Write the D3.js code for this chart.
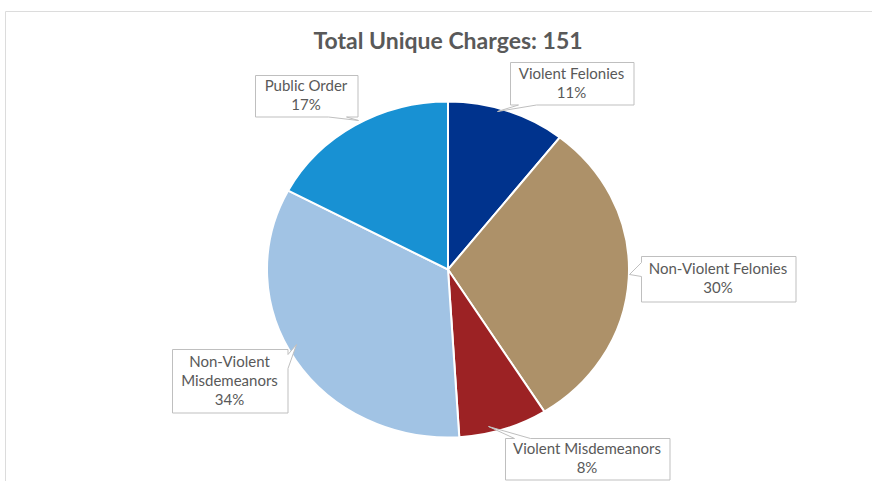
<!DOCTYPE html>
<html lang="en">
  <head>
    <meta charset="UTF-8" />
    <title>Total Unique Charges</title>
    <script src="https://d3js.org/d3.v7.min.js"></script>
    <style>
      body {
        margin: 0;
        padding: 0;
        background: #fff;
      }
      svg {
        display: block;
        font-family: Lato, "Open Sans", sans-serif;
      }
    </style>
  </head>
  <body>
    <svg width="872" height="481"></svg>
    <script>
      // data (151 charges in total)
      const categories = [
        "Violent Felonies",
        "Non-Violent Felonies",
        "Violent Misdemeanors",
        "Non-Violent Misdemeanors",
        "Public Order",
      ];
      const counts = [16, 46, 12, 51, 26];
      const percentLabels = ["11%", "30%", "8%", "34%", "17%"];
      const colors = ["#00338d", "#ad9169", "#9c2224", "#a1c3e4", "#1891d3"];

      // callout boxes: [x, y, w, h, side of wedge, wedge base a, base b, tip x, tip y]
      const callouts = [
        [510, 62, 123, 42, "bottom", 518, 536, 497, 111],
        [641, 256, 154, 45, "left", 262, 276, 629, 274],
        [505, 438, 164, 41, "top", 514, 530, 488, 426],
        [172, 349, 115, 63, "right", 354, 368, 296, 344],
        [255, 75, 102, 41, "bottom", 328, 346, 358, 120],
      ];

      const width = 872;
      const height = 481;
      const cx = 448;
      const cy = 269.5;
      const r = 168;
      const sx = 181 / 168;

      const svg = d3.select("svg");

      // faint chart frame
      svg
        .append("path")
        .attr("d", `M5.5,${height} V11.5 H${width}`)
        .attr("fill", "none")
        .attr("stroke", "#dcdcdc")
        .attr("stroke-width", 1);

      svg
        .append("text")
        .attr("x", cx)
        .attr("y", 49)
        .attr("text-anchor", "middle")
        .attr("font-size", 23)
        .attr("font-weight", "bold")
        .attr("fill", "#595959")
        .text("Total Unique Charges: 151");

      const pie = d3.pie().sort(null).value((d) => d);
      const arc = d3.arc().innerRadius(0).outerRadius(r);

      svg
        .append("g")
        .attr("transform", `translate(${cx},${cy}) scale(${sx},1)`)
        .selectAll("path")
        .data(pie(counts))
        .join("path")
        .attr("d", arc)
        .attr("fill", (d, i) => colors[i])
        .attr("stroke", "#fff")
        .attr("stroke-width", 2)
        .attr("vector-effect", "non-scaling-stroke");

      function calloutPath(c) {
        const [x, y, w, h, side, a, b, tx, ty] = c;
        const x2 = x + w;
        const y2 = y + h;
        if (side === "bottom")
          return `M${x},${y} H${x2} V${y2} H${b} L${tx},${ty} L${a},${y2} H${x} Z`;
        if (side === "top")
          return `M${x},${y} H${a} L${tx},${ty} L${b},${y} H${x2} V${y2} H${x} Z`;
        if (side === "left")
          return `M${x},${y} H${x2} V${y2} H${x} V${b} L${tx},${ty} L${x},${a} Z`;
        return `M${x},${y} H${x2} V${a} L${tx},${ty} L${x2},${b} V${y2} H${x} Z`;
      }

      const labels = svg
        .append("g")
        .selectAll("g")
        .data(callouts)
        .join("g");

      labels
        .append("path")
        .attr("d", (d) => calloutPath(d.map((v) => (typeof v === "number" ? v + 0.5 : v))))
        .attr("fill", "#fff")
        .attr("stroke", "#bfbfbf")
        .attr("stroke-width", 1);

      labels.each(function (d, i) {
        const g = d3.select(this);
        const lines = categories[i] === "Non-Violent Misdemeanors"
          ? ["Non-Violent", "Misdemeanors", percentLabels[i]]
          : [categories[i], percentLabels[i]];
        const lh = 19;
        const top = d[1] + d[3] / 2 - ((lines.length - 1) * lh) / 2 + 5;
        g.selectAll("text")
          .data(lines)
          .join("text")
          .attr("x", d[0] + d[2] / 2)
          .attr("y", (t, j) => top + j * lh)
          .attr("text-anchor", "middle")
          .attr("font-size", 15)
          .attr("fill", "#595959")
          .text((t) => t);
      });
    </script>
  </body>
</html>
